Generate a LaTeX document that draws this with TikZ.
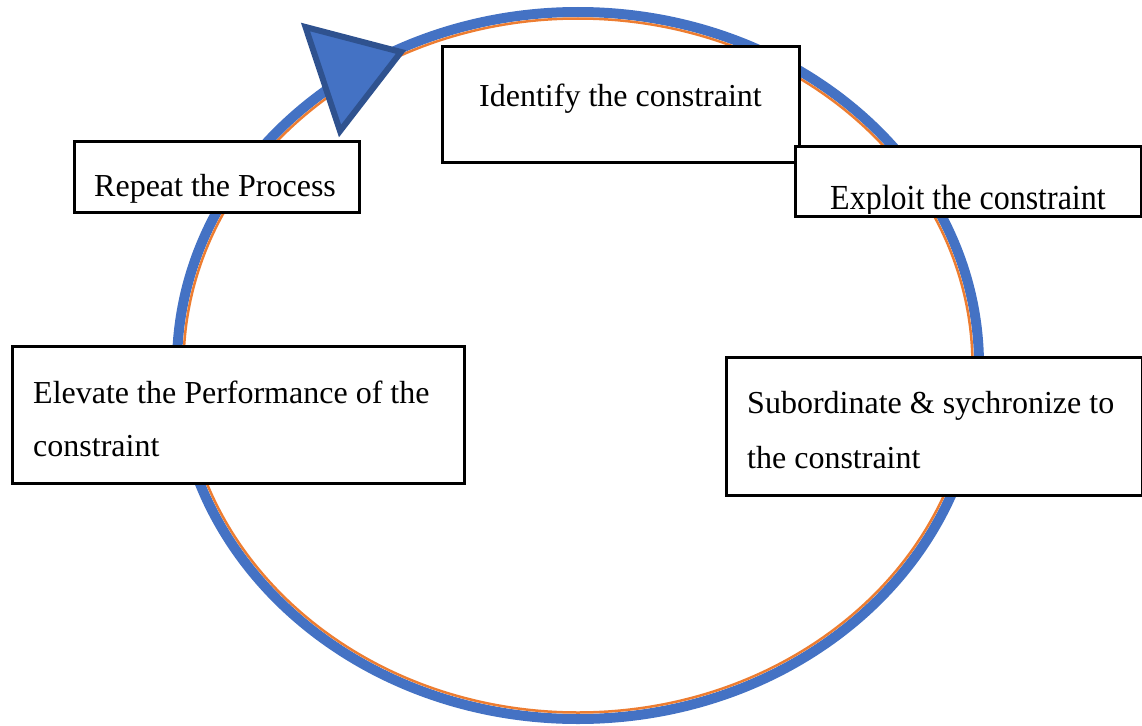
\documentclass[tikz,border=0pt]{standalone}
\usepackage{fontspec}
\setmainfont{Liberation Serif}
\definecolor{cycleblue}{HTML}{4472C4}
\definecolor{cycleorange}{HTML}{ED7D31}
\definecolor{tribord}{HTML}{2F528F}
\tikzset{
  stepbox/.style={draw=black, line width=3pt, fill=white, rectangle, inner sep=0pt, anchor=north west},
  steptext/.style={anchor=base west, inner sep=0pt, font=\fontsize{32}{53}\selectfont, text=black}
}
\begin{document}
\begin{tikzpicture}[x=1pt,y=-1pt]
\useasboundingbox (0,0) rectangle (1142,725);
% cycle
\draw[cycleblue, line width=10pt] (578,365.5) ellipse [x radius=401, y radius=353.5];
\draw[cycleorange, line width=2.5pt] (578,365.5) ellipse [x radius=394.5, y radius=347];
% arrowhead
\draw[tribord, fill=cycleblue, line width=6pt, line join=miter] (305.5,27) -- (401,52) -- (340,131) -- cycle;
% boxes
\node[stepbox, minimum width=285pt, minimum height=71pt] (repeat) at (73,140) {};
\node[steptext] (repeatt) at (94,196) {Repeat the Process};
\node[stepbox, minimum width=357pt, minimum height=116pt] (identify) at (441,45) {};
\node[steptext] (identifyt) at (479,106) {Identify the constraint};
\node[stepbox, minimum width=346pt, minimum height=70pt] (exploit) at (794,145) {};
\begin{scope}
\clip (794,145) rectangle (1140,213.5);
\node[steptext] (exploitt) at (830,209) {\scalebox{1}[1.1]{Exploit the constraint}};
\end{scope}
\node[stepbox, minimum width=452pt, minimum height=137pt] (elevate) at (11,345) {};
\node[steptext] (elevatet1) at (33,403) {Elevate the Performance of the};
\node[steptext] (elevatet2) at (33,456) {constraint};
\node[stepbox, minimum width=416pt, minimum height=138pt] (subordinate) at (725,356) {};
\node[steptext] (subordinatet1) at (747,413) {Subordinate \& sychronize to};
\node[steptext] (subordinatet2) at (747,468) {the constraint};
\end{tikzpicture}
\end{document}
